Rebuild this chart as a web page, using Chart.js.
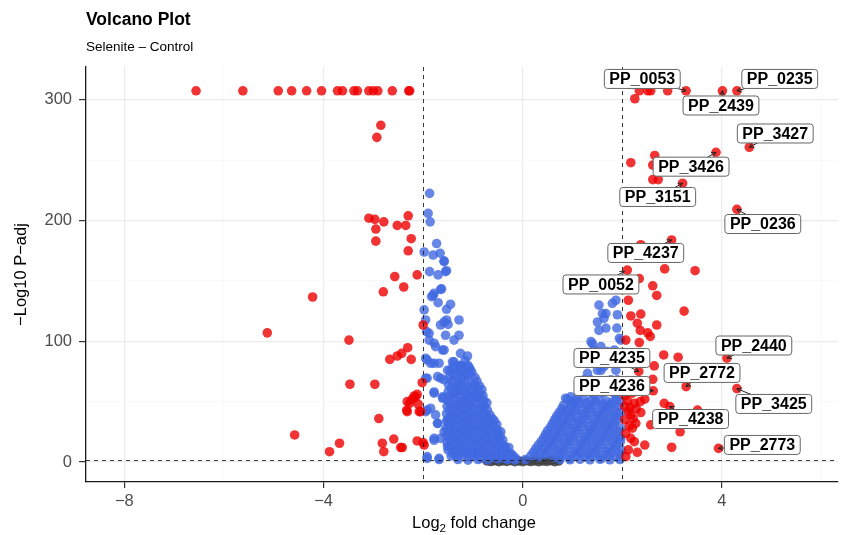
<!DOCTYPE html>
<html>
<head>
<meta charset="utf-8">
<script src="https://cdn.jsdelivr.net/npm/chart.js@4.4.1/dist/chart.umd.min.js"></script>
<style>
  body { margin: 0; background: #fff; }
  #volcano { display: block; }
</style>
</head>
<body>
<canvas id="volcano" width="848" height="535"></canvas>
<script>
'use strict';

// Volcano plot data: [log2 fold change, -log10 padj]
// red = |FC| > 2 and padj < 0.05
const sigPoints = [
  [-6.56,307.6],[-5.62,307.6],[-4.91,307.6],[-4.64,307.6],[-4.34,307.6],[-4.04,307.6],[-3.72,307.6],[-3.62,307.6],
  [-3.39,307.6],[-3.32,307.6],[-3.09,307.6],[-3.00,307.6],[-2.91,307.6],[-2.62,307.6],[-2.29,307.6],[-2.27,307.6],
  [-2.85,279],[-2.93,269],[-3.09,202],[-2.97,201],[-2.79,199],[-2.95,193],[-2.95,183],[-2.30,204],[-2.52,196],
  [-2.35,196],[-2.24,185],[-2.30,175],[-2.57,153.6],[-2.12,155],[-2.80,141],[-2.39,145],[-2.00,113.5],[-4.22,136.7],
  [-5.13,107],[-3.49,101],[-2.31,94.7],[-2.52,87.8],[-2.43,90],[-2.67,85],[-2.24,85],[-3.47,64.4],[-2.97,64.4],
  [-2.02,65.7],[-2.18,54.7],[-2.12,56],[-2.27,48.6],[-2.32,41.7],[-2.05,41.7],[-2.89,36],[-4.58,22.4],[-3.68,15.5],
  [-3.88,8.5],[-2.82,15.5],[-2.79,8.5],[-2.59,19],[-2.45,12],[-2.12,17.4],[-2.00,16],[-2.15,54],[-2.32,50],
  [-2.33,43],[-2.08,41.7],[-1.98,14],[-2.42,12],[-2.22,52],[-2.10,48],
  [2.34,307.6],[2.51,307.6],[2.57,307.6],[2.91,307.6],[3.28,307.6],[4.01,307.6],[4.30,307.6],[2.25,301],
  [2.17,248],[2.65,254],[2.61,246],[2.61,234],[2.72,234],[3.88,256.6],[3.21,231],[4.55,260.8],[4.30,209.4],
  [2.99,184],[2.37,180],[2.10,159],[2.85,160],[3.46,158.5],[2.34,152],[2.61,146],[2.69,138],[2.12,134],
  [3.24,125],[2.17,121],[2.37,122.6],[2.30,115],[2.69,113.5],[2.36,109],[2.51,107],[2.56,104],[2.07,101],
  [2.34,99],[2.83,88.7],[3.12,86.8],[2.64,79.6],[4.10,86],[2.33,75],[2.61,68.5],[3.28,62.4],[4.30,60.8],
  [2.62,59],[2.10,51],[2.24,48.6],[2.36,50],[2.84,48.6],[2.95,46],[2.17,39],[2.37,41],[2.57,30.7],[2.27,32],
  [3.16,25],[2.07,23.8],[2.17,19.6],[2.24,16.8],[2.45,14],[2.99,12.2],[3.93,11.3],[2.07,4.4],[3.51,43],
  [2.05,55],[2.15,45],[2.05,35],[2.20,28],[2.12,10],[2.30,8],[2.05,46],
  [2.08,60],[2.20,57],[2.12,42],[2.28,44],[2.14,30],[2.45,52],[2.22,36]
];

// blue = padj < 0.05 but |FC| < 2
const pOnlyPoints = [
  // left, sparse upper part
  [-1.87,222.6],[-1.90,206],[-1.86,199],[-1.73,181],[-1.98,174],[-1.80,171.5],[-1.66,173],[-1.58,166.6],
  [-1.87,157.7],[-1.70,155],[-1.53,158.5],[-1.63,143.4],[-1.78,139.8],[-1.83,137],[-1.70,132],[-1.45,130.7],
  [-1.98,126],[-1.53,126.5],[-1.95,117.7],[-1.53,117.7],[-1.28,117.7],[-1.65,113.5],[-1.50,114],[-1.88,106.6],
  [-1.55,105],[-1.28,105],[-1.38,101],[-1.78,98.4],[-1.61,92.8],[-1.25,90],[-1.11,87.8],[-1.95,86],[-1.85,81.8],
  [-1.38,83],[-1.68,81.8],[-1.51,76],[-1.25,79],[-1.05,76],[-1.65,69.4],[-1.92,69.4],[-1.78,58],[-1.61,52.8],
  [-1.31,62.4],[-0.91,54],[-1.85,44.5],[-1.95,41.7],[-1.71,32],[-1.51,34.8],[-1.78,19.6],[-1.65,19.6],[-1.48,29],
  [-1.92,4.4],[-1.68,3],[-1.58,166],[-1.55,157.7],[-1.65,143],[-1.80,138],[-1.58,116],[-1.93,108],[-1.88,101],
  [-1.75,95.5],[-1.58,92.8],[-1.92,84.5],[-1.78,81.8],[-1.95,69.4],[-1.71,70.7],[-1.58,68],[-1.78,57],[-1.61,54],
  [-1.92,43],[-1.75,39],[-1.71,32],[-1.58,25],[-1.78,18],[-1.51,12.7],[-1.92,3],[-1.68,2],
  // left, dense core
  [-1.41,83],[-1.27,80],[-1.16,84],
  [-1.40,79],[-1.22,79.5],[-1.10,80],
  [-1.46,76],[-1.33,77],[-1.20,75],[-1.07,78],
  [-1.40,73],[-1.27,74],[-1.14,73],[-1.02,74],
  [-1.47,70],[-1.35,71],[-1.22,69],[-1.09,72],[-0.96,70],
  [-1.42,67],[-1.29,67],[-1.16,68],[-1.03,66],[-0.92,67],
  [-1.49,64],[-1.36,63],[-1.23,65],[-1.10,62],[-0.98,64],[-0.87,63],
  [-1.44,61],[-1.30,60],[-1.17,61],[-1.04,60],[-0.92,61],[-0.82,60],
  [-1.50,58],[-1.37,57],[-1.24,59],[-1.12,56],[-0.99,58],[-0.86,57],
  [-1.45,55],[-1.31,55],[-1.18,54],[-1.06,55],[-0.93,54],[-0.80,55],
  [-1.51,51],[-1.38,53],[-1.25,50],[-1.13,52],[-1.00,51],[-0.88,53],[-0.78,51],
  [-1.46,49],[-1.32,48],[-1.19,49],[-1.07,48],[-0.94,49],[-0.82,48],[-0.72,49],
  [-1.52,46],[-1.40,45],[-1.27,47],[-1.14,45],[-1.02,46],[-0.89,44],[-0.77,46],
  [-1.47,43],[-1.34,42],[-1.21,43],[-1.09,42],[-0.96,43],[-0.83,42],[-0.71,43],
  [-1.53,40],[-1.41,39],[-1.28,41],[-1.15,39],[-1.03,40],[-0.90,38],[-0.77,40],[-0.66,39],
  [-1.47,37],[-1.35,36],[-1.22,37],[-1.10,36],[-0.97,37],[-0.85,36],[-0.72,37],[-0.61,36],
  [-1.53,34],[-1.41,33],[-1.29,35],[-1.16,33],[-1.04,34],[-0.91,32],[-0.79,34],[-0.67,33],[-0.57,34],
  [-1.48,31],[-1.35,30],[-1.23,31],[-1.10,30],[-0.98,31],[-0.86,30],[-0.73,31],[-0.61,30],[-0.52,31],
  [-1.54,28],[-1.42,27],[-1.29,29],[-1.17,27],[-1.04,28],[-0.92,26],[-0.79,28],[-0.67,27],[-0.55,28],[-0.50,26],
  [-1.48,25],[-1.36,24],[-1.23,25],[-1.11,24],[-0.99,25],[-0.86,24],[-0.74,25],[-0.62,24],[-0.50,23],[-0.44,25],
  [-1.53,22],[-1.41,21],[-1.29,23],[-1.17,21],[-1.05,22],[-0.93,20],[-0.80,22],[-0.68,21],[-0.56,22],[-0.45,21],
  [-1.47,19],[-1.35,18],[-1.22,19],[-1.10,18],[-0.98,19],[-0.86,18],[-0.74,19],[-0.62,18],[-0.49,19],[-0.40,18],
  [-1.52,16],[-1.40,15],[-1.28,17],[-1.16,15],[-1.04,16],[-0.92,14],[-0.80,16],[-0.67,15],[-0.55,16],[-0.43,15],[-0.36,13],
  [-1.45,13],[-1.33,12],[-1.20,13],[-1.08,12],[-0.96,13],[-0.84,12],[-0.72,13],[-0.59,12],[-0.47,13],[-0.35,11],[-0.28,12],
  [-1.50,10],[-1.38,9],[-1.26,11],[-1.14,9],[-1.02,10],[-0.90,8],[-0.78,10],[-0.65,9],[-0.53,10],[-0.41,9],[-0.30,8],[-0.24,7],
  [-1.40,7],[-1.28,7.5],[-1.15,7],[-1.02,7.5],[-0.90,6],[-0.78,7],[-0.66,6.5],[-0.54,7],[-0.42,6],[-0.30,5.5],[-0.20,5.5],
  [-1.44,5],[-1.32,4],[-1.20,6],[-1.08,4],[-0.96,5],[-0.84,3],[-0.72,5],[-0.60,4],[-0.48,5],[-0.36,3],[-0.24,4],[-0.14,3],
  [-1.30,2],[-1.10,1.5],[-0.90,2],[-0.70,1.6],[-0.50,2.5],[-0.30,2],[-0.15,1.6],
  // right, sparse upper part
  [1.53,130],[1.67,123],[1.50,116],[1.80,131.5],[1.87,134],[1.90,122],[1.67,111],[1.53,109],[1.89,111],
  [1.94,102.5],[1.37,99.7],[1.43,92.8],[1.57,95.6],[1.70,91.4],[1.84,92.8],[1.30,73.5],[1.50,76],[1.63,79],
  [1.90,81.8],[1.60,123],[1.63,119],[1.40,98],[1.97,101],[1.37,68],[1.57,76],[1.87,76],[1.90,68],[0.86,52.8],
  [1.03,50],[0.96,54],[1.30,59.6],[1.50,62.4],[1.73,59.6],[1.97,62.4],[1.23,68],[1.77,68],[1.97,84.5],[1.63,81.8],
  [1.12,57],[1.42,56],[1.62,57],[1.85,56],[1.20,62],[1.66,64],
  // right, dense core
  [0.90,52],[1.05,51],[1.21,53],[1.37,51],[1.54,52],[1.70,50],[1.88,52],
  [0.97,49],[1.13,50],[1.29,49],[1.46,50],[1.62,48],[1.79,49],[1.95,50],
  [0.82,47],[0.97,46],[1.12,48],[1.28,46],[1.44,47],[1.60,45],[1.76,47],[1.93,46],
  [0.78,44],[0.90,43],[1.05,44],[1.20,43],[1.36,44],[1.52,42],[1.68,44],[1.85,43],
  [0.73,41],[0.88,40],[1.03,42],[1.19,40],[1.35,41],[1.50,39],[1.66,41],[1.82,40],[1.97,41],
  [0.68,38],[0.81,37],[0.96,38],[1.11,37],[1.27,38],[1.43,36],[1.59,38],[1.75,37],[1.92,38],
  [0.64,35],[0.79,34],[0.95,36],[1.10,34],[1.26,35],[1.42,33],[1.58,35],[1.74,34],[1.90,35],
  [0.60,32],[0.74,31],[0.89,32],[1.04,31],[1.20,32],[1.36,30],[1.52,32],[1.68,31],[1.84,32],
  [0.56,29],[0.71,28],[0.86,30],[1.02,28],[1.18,29],[1.34,27],[1.50,29],[1.66,28],[1.82,29],[1.97,28],
  [0.50,26],[0.64,25],[0.79,26],[0.95,25],[1.11,26],[1.27,24],[1.43,26],[1.59,25],[1.75,26],[1.92,25],
  [0.46,23],[0.61,22],[0.77,24],[0.92,22],[1.08,23],[1.24,21],[1.40,23],[1.56,22],[1.72,23],[1.88,22],
  [0.42,20],[0.55,19],[0.70,20],[0.86,19],[1.02,20],[1.18,18],[1.34,20],[1.50,19],[1.66,20],[1.82,19],[1.97,20],
  [0.37,17],[0.52,16],[0.68,18],[0.84,16],[1.00,17],[1.16,15],[1.32,17],[1.48,16],[1.64,17],[1.80,16],[1.96,17],
  [0.31,14],[0.45,13],[0.60,14],[0.76,13],[0.92,14],[1.08,12],[1.24,14],[1.40,13],[1.56,14],[1.72,12],[1.88,14],
  [0.26,11],[0.41,10],[0.57,12],[0.72,10],[0.88,11],[1.04,9],[1.20,11],[1.36,10],[1.52,11],[1.68,9],[1.84,11],[1.98,10],
  [0.21,8],[0.35,7],[0.50,8],[0.66,7],[0.82,8],[0.98,6],[1.14,8],[1.30,7],[1.46,8],[1.62,6],[1.78,8],[1.95,7],
  [0.16,5],[0.31,4],[0.46,6],[0.62,4],[0.78,5],[0.94,3],[1.10,5],[1.26,4],[1.42,5],[1.58,3],[1.74,5],[1.90,4],
  [0.05,2],[0.75,2],[0.95,1.8],[1.15,2.2],[1.35,1.8],[1.55,2.2],[1.75,1.8],[1.95,2]
];

// gray = not significant
const nsPoints = [
  [-0.72,0.9],[-0.64,0.4],[-0.56,1.0],[-0.48,0.3],[-0.40,0.9],[-0.32,0.5],[-0.24,1.1],[-0.16,0.2],[-0.08,0.8],
  [0.00,0.3],[0.08,1.0],[0.16,0.4],[0.24,0.9],[0.32,0.2],[0.40,0.8],[0.48,0.5],[0.56,1.0],[0.64,0.3],[0.72,0.8]
];

// labelled genes and the point each one belongs to
const geneNames = ['PP_0053','PP_0235','PP_2439','PP_3427','PP_3426','PP_3151','PP_0236','PP_4237',
  'PP_0052','PP_4235','PP_4236','PP_2440','PP_2772','PP_3425','PP_4238','PP_2773'];
const geneFC = [3.28, 4.30, 4.01, 4.55, 3.88, 3.21, 4.30, 2.99, 2.04, 2.33, 2.62, 4.10, 3.28, 4.30, 2.95, 3.93];
const genePadj = [307.6, 307.6, 307.6, 260.8, 256.6, 231, 209.4, 184, 158, 75, 59, 86, 62.4, 60.8, 46, 11.3];

const xTicks = [-8, -6, -4, -2, 0, 2, 4, 6];
const yTicks = [0, 50, 100, 150, 200, 250, 300];
const fcCut = 2;
const padjCut = 1.3;

// where the repelled label boxes sit (data units)
const labelBoxes = [[2.40,317.4],[5.16,317.4],[3.98,295.4],[5.07,272.2],[3.38,244.7],[2.71,219.6],[4.82,197.2],
  [2.47,173.2],[1.57,147.1],[1.79,86.2],[1.79,63.0],[4.64,96.5],[3.60,73.8],[5.04,48.1],[3.37,35.6],[4.81,14.1]];

const FONT = '"Liberation Sans", Arial, Helvetica, sans-serif';
const isMajorX = v => v % 4 === 0;
const isMajorY = v => v % 100 === 0;
const minus = v => (v < 0 ? '\u2212' + Math.abs(v) : String(v));
const toXY = arr => arr.map(p => ({ x: p[0], y: p[1] }));

const volcanoDecor = {
  id: 'volcanoDecor',
  afterDatasetsDraw(chart) {
    const { ctx, chartArea: a, scales: { x, y } } = chart;
    ctx.save();

    // threshold lines
    ctx.strokeStyle = '#222';
    ctx.lineWidth = 0.9;
    ctx.setLineDash([4, 4]);
    ctx.beginPath();
    [-fcCut, fcCut].forEach(v => {
      const px = Math.round(x.getPixelForValue(v)) + 0.5;
      ctx.moveTo(px, a.top); ctx.lineTo(px, a.bottom);
    });
    const py = Math.round(y.getPixelForValue(padjCut)) + 0.5;
    ctx.moveTo(a.left, py); ctx.lineTo(a.right, py);
    ctx.stroke();
    ctx.setLineDash([]);

    // label boxes with short arrows
    ctx.font = 'bold 16px ' + FONT;
    ctx.textAlign = 'center';
    ctx.textBaseline = 'middle';
    geneNames.forEach((name, i) => {
      const px = x.getPixelForValue(geneFC[i]);
      const ppy = y.getPixelForValue(genePadj[i]);
      const bx = x.getPixelForValue(labelBoxes[i][0]);
      const by = y.getPixelForValue(labelBoxes[i][1]);
      const w = ctx.measureText(name).width + 10, h = 19;
      const dx = px - bx, dy = ppy - by;
      const s = Math.min(Math.abs(dx) > 0 ? (w / 2) / Math.abs(dx) : Infinity,
                         Math.abs(dy) > 0 ? (h / 2) / Math.abs(dy) : Infinity);
      if (s < 1) {
        const sx = bx + dx * s, sy = by + dy * s;
        ctx.strokeStyle = '#222';
        ctx.lineWidth = 1;
        ctx.beginPath();
        ctx.moveTo(sx, sy); ctx.lineTo(px, ppy);
        const ang = Math.atan2(ppy - sy, px - sx);
        ctx.moveTo(px, ppy);
        ctx.lineTo(px - 5 * Math.cos(ang - 0.5), ppy - 5 * Math.sin(ang - 0.5));
        ctx.moveTo(px, ppy);
        ctx.lineTo(px - 5 * Math.cos(ang + 0.5), ppy - 5 * Math.sin(ang + 0.5));
        ctx.stroke();
      }
      ctx.fillStyle = '#fff';
      ctx.strokeStyle = '#666';
      ctx.lineWidth = 1;
      ctx.beginPath();
      ctx.roundRect(bx - w / 2, by - h / 2, w, h, 3);
      ctx.fill();
      ctx.stroke();
      ctx.fillStyle = '#000';
      ctx.fillText(name, bx, by + 1);
    });

    // titles
    ctx.textAlign = 'left';
    ctx.textBaseline = 'alphabetic';
    ctx.fillStyle = '#000';
    ctx.font = 'bold 17.5px ' + FONT;
    ctx.fillText('Volcano Plot', a.left, 25);
    ctx.font = '13.5px ' + FONT;
    ctx.fillText('Selenite \u2013 Control', a.left, 50.5);

    // x axis title with subscript
    ctx.font = '16.5px ' + FONT;
    const p1 = 'Log', p3 = ' fold change';
    const w1 = ctx.measureText(p1).width, w3 = ctx.measureText(p3).width;
    ctx.font = '11.5px ' + FONT;
    const w2 = ctx.measureText('2').width;
    const sx = 474 - (w1 + w2 + w3) / 2;
    ctx.font = '16.5px ' + FONT;
    ctx.fillText(p1, sx, 528);
    ctx.font = '11.5px ' + FONT;
    ctx.fillText('2', sx + w1, 532);
    ctx.font = '16.5px ' + FONT;
    ctx.fillText(p3, sx + w1 + w2, 528);

    // y axis title
    ctx.translate(26, (a.top + a.bottom) / 2);
    ctx.rotate(-Math.PI / 2);
    ctx.textAlign = 'center';
    ctx.fillText('\u2212Log10 P\u2212adj', 0, 0);
    ctx.restore();
  }
};

const pointStyle = { pointRadius: 4.8, pointHoverRadius: 4.8, borderWidth: 0 };

new Chart(document.getElementById('volcano'), {
  type: 'scatter',
  data: {
    datasets: [
      Object.assign({ data: toXY(sigPoints), backgroundColor: 'rgba(238,0,0,0.8)', order: 0 }, pointStyle),
      Object.assign({ data: toXY(pOnlyPoints), backgroundColor: 'rgba(65,105,225,0.8)', order: 1 }, pointStyle),
      Object.assign({ data: toXY(nsPoints), backgroundColor: 'rgba(64,64,64,0.85)', order: 2 }, pointStyle)
    ]
  },
  options: {
    responsive: false,
    animation: false,
    events: [],
    layout: { padding: { top: 67, right: 10, left: 0, bottom: 0 } },
    plugins: { legend: { display: false }, tooltip: { enabled: false } },
    scales: {
      x: {
        type: 'linear',
        min: -8.77,
        max: 6.33,
        afterBuildTicks: s => { s.ticks = xTicks.map(v => ({ value: v })); },
        afterFit: s => { s.height = 53; },
        border: { display: true, color: '#1a1a1a', width: 1.3 },
        grid: {
          color: c => (isMajorX(c.tick.value) ? '#EBEBEB' : '#F5F5F5'),
          lineWidth: c => (isMajorX(c.tick.value) ? 1.2 : 0.6),
          tickColor: c => (isMajorX(c.tick.value) ? '#333' : 'rgba(0,0,0,0)'),
          tickLength: 6
        },
        ticks: {
          autoSkip: false,
          maxRotation: 0,
          padding: 4,
          color: '#4D4D4D',
          font: { family: FONT, size: 16.5 },
          callback: v => (isMajorX(v) ? minus(v) : '')
        }
      },
      y: {
        min: -16.6,
        max: 327.3,
        afterBuildTicks: s => { s.ticks = yTicks.map(v => ({ value: v })); },
        afterFit: s => { s.width = 86; },
        border: { display: true, color: '#1a1a1a', width: 1.3 },
        grid: {
          color: c => (isMajorY(c.tick.value) ? '#EBEBEB' : '#F5F5F5'),
          lineWidth: c => (isMajorY(c.tick.value) ? 1.2 : 0.6),
          tickColor: c => (isMajorY(c.tick.value) ? '#333' : 'rgba(0,0,0,0)'),
          tickLength: 7
        },
        ticks: {
          autoSkip: false,
          padding: 7,
          color: '#4D4D4D',
          font: { family: FONT, size: 16.5 },
          callback: v => (isMajorY(v) ? String(v) : '')
        }
      }
    }
  },
  plugins: [volcanoDecor]
});
</script>
</body>
</html>
